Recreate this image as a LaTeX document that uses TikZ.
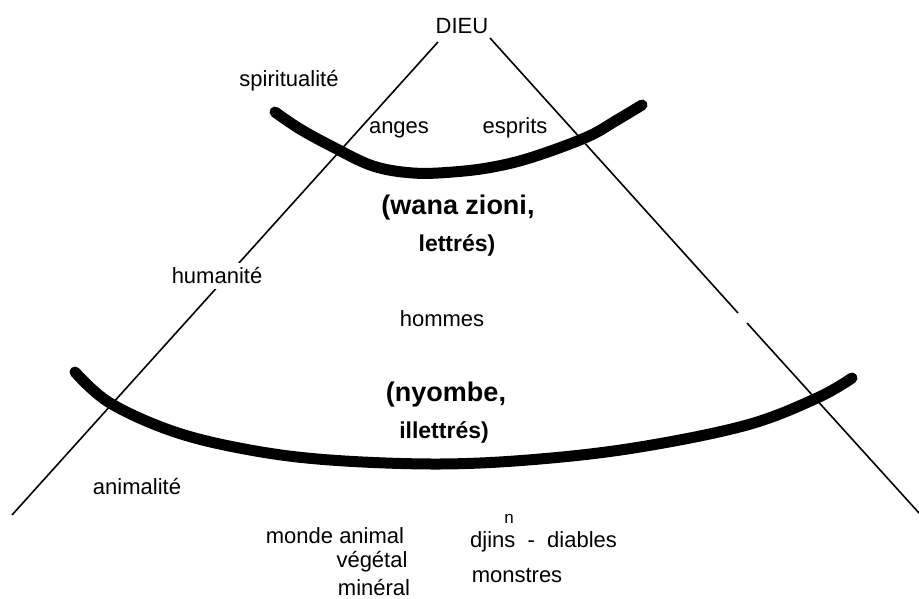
\documentclass[tikz,border=0pt]{standalone}
\usepackage{fontspec}
\setmainfont{Liberation Sans}
\begin{document}
\begin{tikzpicture}[
  x=1pt, y=-1pt,
  lbl/.style={font=\fontsize{22}{24}\selectfont, inner sep=2pt},
  blbl/.style={lbl, font=\fontsize{27}{29}\selectfont\bfseries},
  mlbl/.style={lbl, font=\fontsize{23}{25}\selectfont\bfseries},
  smalllbl/.style={lbl, font=\fontsize{17}{18}\selectfont},
  side/.style={line width=1.6pt, black},
  band/.style={line width=11pt, line cap=round, line join=round, black},
]
\useasboundingbox (0,0) rectangle (919,599);
% ====== SIDES OF THE CONE ======
\node[lbl] (dieu) at (462,26) {DIEU};
\coordinate (l_top) at (438,42);
\coordinate (l_bot) at (12,515);
\coordinate (r_top) at (490,38);
\coordinate (r_gapa) at (738,313);
\coordinate (r_gapb) at (747,323);
\coordinate (r_bot) at (919,513);
\draw[side] (l_top) -- (l_bot);
\draw[side] (r_top) -- (r_gapa);
\draw[side] (r_gapb) -- (r_bot);
%
% ====== BANDS ======
\draw[band] plot[smooth, tension=0.6] coordinates {(275,112) (300,129) (333,147)
  (373,166) (413,173) (453,172) (493,167) (533,157) (587,137) (617,120) (642,105)};
\draw[band] plot[smooth, tension=0.6] coordinates {(75,372) (110,403) (175,432)
  (250,450) (330,460) (440,464) (540,459) (640,447) (747,425) (817,398) (852,378)};
%
% ====== SPIRITUALITE ======
\node[lbl] (spirit) at (289,81) {spiritualité};
\node[lbl] (anges) at (399,130) {anges};
\node[lbl] (esprits) at (515,128) {esprits};
%
% ====== HUMANITE ======
\node[blbl] (wana) at (458,208) {(wana zioni,};
\node[mlbl] (lettres) at (457,245) {lettrés)};
\node[lbl, fill=white, inner sep=5pt] (human) at (217,276) {humanité};
\node[lbl] (hommes) at (442,319) {hommes};
\node[blbl] (nyombe) at (446,395) {(nyombe,};
\node[mlbl] (illettres) at (444,432) {illettrés)};
%
% ====== ANIMALITE ======
\node[lbl] (animal) at (137,487) {animalité};
\node[lbl] (monde) at (335,536) {monde animal};
\node[lbl] (vegetal) at (372,562) {végétal};
\node[lbl] (mineral) at (374,588) {minéral};
\node[lbl, anchor=west] (djins) at (468,542) {djins \ - \ diables};
\node[smalllbl] (djins_n) at (509,519) {n};
\node[lbl] (monstres) at (517,575) {monstres};
\end{tikzpicture}
\end{document}
